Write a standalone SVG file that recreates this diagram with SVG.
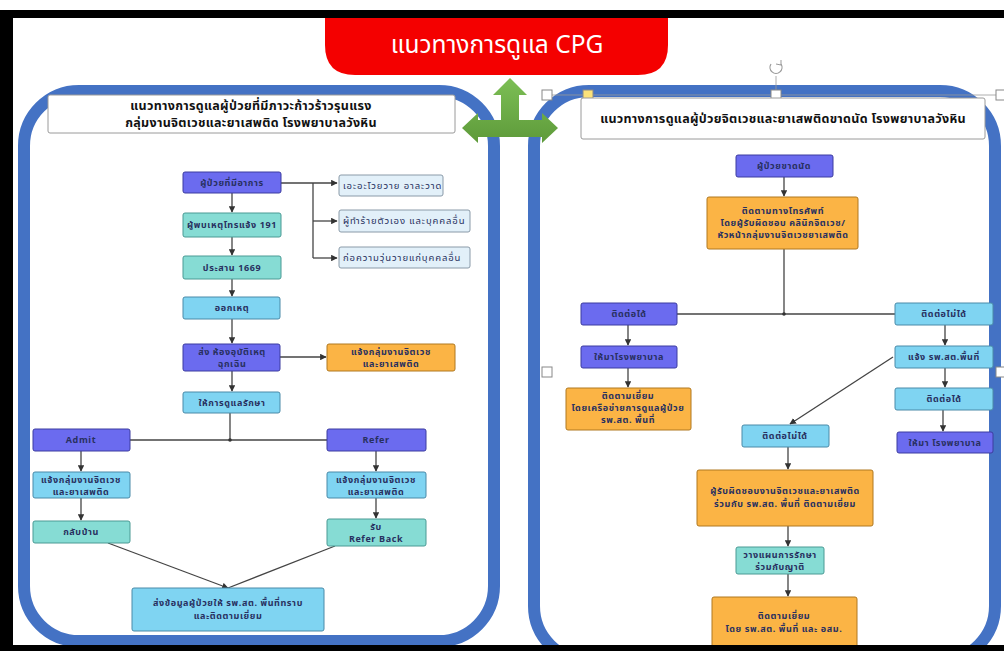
<svg xmlns="http://www.w3.org/2000/svg" width="1004" height="651" viewBox="0 0 1004 651">
<defs>
<style>
.t{font-family:"Noto Sans Thai","Noto Sans","DejaVu Sans",sans-serif;font-size:9px;font-weight:bold;fill:#283060;text-anchor:middle;letter-spacing:0.6px}
.h{font-family:"Noto Sans Thai","Noto Sans","DejaVu Sans",sans-serif;font-size:12.5px;font-weight:bold;fill:#111;text-anchor:middle;letter-spacing:0.3px}
.tl{text-anchor:start;font-weight:normal;font-size:9.5px;letter-spacing:0.9px}
.pu{fill:#6b6bef;stroke:#3c3ca0;stroke-width:1}
.sk{fill:#7fd4f2;stroke:#4a8aa8;stroke-width:1}
.tq{fill:#86dcd4;stroke:#4a9a94;stroke-width:1}
.or{fill:#fbb445;stroke:#b07820;stroke-width:1}
.lt{fill:#e2f0f9;stroke:#8a9aa8;stroke-width:1}
.hd{fill:#fff;stroke:#9a9a9a;stroke-width:1}
.c{fill:none;stroke:#444;stroke-width:1.3}
.hn{fill:#fff;stroke:#888;stroke-width:1}
</style>
<marker id="a" viewBox="0 0 10 10" refX="9" refY="5" markerWidth="5" markerHeight="5" orient="auto">
<path d="M0,0 L10,5 L0,10 z" fill="#333"/>
</marker>
<linearGradient id="g" x1="0" y1="0" x2="0" y2="1">
<stop offset="0" stop-color="#7cbf55"/>
<stop offset="1" stop-color="#5e9a3a"/>
</linearGradient>
</defs>
<rect x="0" y="0" width="1004" height="651" fill="#fff"/>
<g id="panels">
<rect x="24" y="91" width="470" height="550" rx="55" fill="#fff" stroke="#4472c4" stroke-width="12"/>
<rect x="534" y="91" width="461" height="570" rx="55" fill="#fff" stroke="#4472c4" stroke-width="12"/>
</g>
<g id="title">
<path d="M325,10 H668 V45 Q668,75 638,75 H355 Q325,75 325,45 Z" fill="#f40000"/>
<text x="497" y="53" font-family="Noto Sans Thai,Noto Sans,DejaVu Sans,sans-serif" font-size="24.5" fill="#fff" text-anchor="middle">แนวทางการดูแล CPG</text>
</g>
<g id="green-arrow">
<path d="M510,78 L527,95 L519,95 L519,120 L542,120 L542,113 L558,128 L542,143 L542,137 L478,137 L478,143 L462,128 L478,113 L478,120 L501,120 L501,95 L493,95 Z" fill="url(#g)"/>
</g>
<g id="selection">
<line x1="547" y1="95" x2="1000" y2="95" stroke="#999" stroke-width="0.8"/>
<line x1="776" y1="76" x2="776" y2="95" stroke="#999" stroke-width="0.8"/>
<path d="M771,64 A6,6 0 1 0 781,64" fill="none" stroke="#999" stroke-width="1.2"/>
<path d="M781,60 L781,65 L776,64" fill="none" stroke="#999" stroke-width="1"/>
<rect x="542" y="90" width="10" height="10" class="hn"/>
<rect x="583" y="90" width="10" height="10" fill="#fbe27a" stroke="#888"/>
<rect x="771" y="90" width="10" height="10" class="hn"/>
<rect x="996" y="90" width="10" height="10" class="hn"/>
<rect x="542" y="367" width="10" height="10" class="hn"/>
<rect x="996" y="367" width="10" height="10" class="hn"/>
</g>
<g id="connectors">
<path class="c" d="M281,183 H337" marker-end="url(#a)"/>
<path class="c" d="M313,183 V258"/>
<path class="c" d="M313,221 H337" marker-end="url(#a)"/>
<path class="c" d="M313,258 H337" marker-end="url(#a)"/>
<path class="c" d="M232,193 V212" marker-end="url(#a)"/>
<path class="c" d="M232,237 V255" marker-end="url(#a)"/>
<path class="c" d="M232,279 V296" marker-end="url(#a)"/>
<path class="c" d="M232,319 V343" marker-end="url(#a)"/>
<path class="c" d="M280,357 H326" marker-end="url(#a)"/>
<path class="c" d="M232,371 V391" marker-end="url(#a)"/>
<path class="c" d="M230,413 V440"/>
<path class="c" d="M130,440 H327"/>
<circle cx="230" cy="440" r="1.8" fill="#333"/>
<path class="c" d="M81,451 V471" marker-end="url(#a)"/>
<path class="c" d="M81,498 V520" marker-end="url(#a)"/>
<path class="c" d="M376,451 V471" marker-end="url(#a)"/>
<path class="c" d="M376,498 V518" marker-end="url(#a)"/>
<path class="c" d="M108,543 L228,588" marker-end="url(#a)"/>
<path class="c" d="M335,546 L228,588"/>
<path class="c" d="M784,177 V196" marker-end="url(#a)"/>
<path class="c" d="M784,249 V314"/>
<path class="c" d="M677,314 H895"/>
<circle cx="784" cy="314" r="1.8" fill="#333"/>
<path class="c" d="M628,325 V345" marker-end="url(#a)"/>
<path class="c" d="M628,368 V387" marker-end="url(#a)"/>
<path class="c" d="M945,325 V345" marker-end="url(#a)"/>
<path class="c" d="M945,368 V387" marker-end="url(#a)"/>
<path class="c" d="M943,410 V431" marker-end="url(#a)"/>
<path class="c" d="M893,357 L790,424" marker-end="url(#a)"/>
<path class="c" d="M788,447 V469" marker-end="url(#a)"/>
<path class="c" d="M788,526 V546" marker-end="url(#a)"/>
<path class="c" d="M788,574 V596" marker-end="url(#a)"/>
</g>
<g id="left-header"><rect class="hd" x="48" y="95" width="407" height="38" rx="2"/>
<text class="h" x="251" y="110">แนวทางการดูแลผู้ป่วยที่มีภาวะก้าวร้าวรุนแรง</text>
<text class="h" x="251" y="127">กลุ่มงานจิตเวชและยาเสพติด โรงพยาบาลวังหิน</text></g>
<g id="n-symptom"><rect class="pu" x="183" y="172" width="98" height="21" rx="2"/><text class="t" x="232" y="186">ผู้ป่วยที่มีอาการ</text></g>
<g id="n-s1"><rect class="lt" x="339" y="175" width="104" height="21" rx="2"/><text class="t tl" x="343" y="189">เอะอะโวยวาย อาละวาด</text></g>
<g id="n-s2"><rect class="lt" x="339" y="210" width="131" height="22" rx="2"/><text class="t tl" x="343" y="224">ผู้ทำร้ายตัวเอง และบุคคลอื่น</text></g>
<g id="n-s3"><rect class="lt" x="339" y="247" width="131" height="21" rx="2"/><text class="t tl" x="343" y="261">ก่อความวุ่นวายแก่บุคคลอื่น</text></g>
<g id="n-191"><rect class="tq" x="183" y="213" width="98" height="24" rx="2"/><text class="t" x="232" y="228">ผู้พบเหตุโทรแจ้ง 191</text></g>
<g id="n-1669"><rect class="tq" x="183" y="256" width="98" height="23" rx="2"/><text class="t" x="232" y="271">ประสาน 1669</text></g>
<g id="n-out"><rect class="sk" x="183" y="297" width="97" height="22" rx="2"/><text class="t" x="232" y="311">ออกเหตุ</text></g>
<g id="n-er"><rect class="pu" x="183" y="344" width="97" height="27" rx="2"/><text class="t" x="232" y="355">ส่ง ห้องอุบัติเหตุ</text><text class="t" x="232" y="367">ฉุกเฉิน</text></g>
<g id="n-notify1"><rect class="or" x="327" y="344" width="128" height="27" rx="2"/><text class="t" x="391" y="355">แจ้งกลุ่มงานจิตเวช</text><text class="t" x="391" y="367">และยาเสพติด</text></g>
<g id="n-care"><rect class="sk" x="183" y="392" width="97" height="21" rx="2"/><text class="t" x="232" y="406">ให้การดูแลรักษา</text></g>
<g id="n-admit"><rect class="pu" x="33" y="429" width="97" height="22" rx="2"/><text class="t" x="81" y="443">Admit</text></g>
<g id="n-refer"><rect class="pu" x="327" y="429" width="99" height="22" rx="2"/><text class="t" x="376" y="443">Refer</text></g>
<g id="n-notify2"><rect class="sk" x="33" y="472" width="97" height="26" rx="2"/><text class="t" x="81" y="483">แจ้งกลุ่มงานจิตเวช</text><text class="t" x="81" y="495">และยาเสพติด</text></g>
<g id="n-notify3"><rect class="sk" x="327" y="472" width="99" height="26" rx="2"/><text class="t" x="376" y="483">แจ้งกลุ่มงานจิตเวช</text><text class="t" x="376" y="495">และยาเสพติด</text></g>
<g id="n-home"><rect class="tq" x="33" y="521" width="97" height="22" rx="2"/><text class="t" x="81" y="535">กลับบ้าน</text></g>
<g id="n-referback"><rect class="tq" x="327" y="519" width="99" height="27" rx="2"/><text class="t" x="376" y="530">รับ</text><text class="t" x="376" y="542">Refer Back</text></g>
<g id="n-send"><rect class="sk" x="132" y="588" width="192" height="43" rx="2"/><text class="t" x="228" y="606">ส่งข้อมูลผู้ป่วยให้ รพ.สต. พื้นที่ทราบ</text><text class="t" x="228" y="619">และติดตามเยี่ยม</text></g>
<g id="right-header"><rect class="hd" x="581" y="98" width="404" height="41" rx="2"/>
<text class="h" x="783" y="123">แนวทางการดูแลผู้ป่วยจิตเวชและยาเสพติดขาดนัด โรงพยาบาลวังหิน</text></g>
<g id="r-missed"><rect class="pu" x="736" y="155" width="97" height="22" rx="2"/><text class="t" x="784" y="169">ผู้ป่วยขาดนัด</text></g>
<g id="r-phone"><rect class="or" x="707" y="197" width="151" height="52" rx="2"/><text class="t" x="783" y="214">ติดตามทางโทรศัพท์</text><text class="t" x="783" y="226">โดยผู้รับผิดชอบ คลินิกจิตเวช/</text><text class="t" x="783" y="238">หัวหน้ากลุ่มงานจิตเวชยาเสพติด</text></g>
<g id="r-ok"><rect class="pu" x="581" y="303" width="96" height="22" rx="2"/><text class="t" x="629" y="317">ติดต่อได้</text></g>
<g id="r-fail"><rect class="sk" x="895" y="303" width="98" height="22" rx="2"/><text class="t" x="944" y="317">ติดต่อไม่ได้</text></g>
<g id="r-come"><rect class="pu" x="581" y="346" width="96" height="22" rx="2"/><text class="t" x="629" y="360">ให้มาโรงพยาบาล</text></g>
<g id="r-visit"><rect class="or" x="566" y="388" width="125" height="42" rx="2"/><text class="t" x="628" y="399">ติดตามเยี่ยม</text><text class="t" x="628" y="411">โดยเครือข่ายการดูแลผู้ป่วย</text><text class="t" x="628" y="423">รพ.สต. พื้นที่</text></g>
<g id="r-notify"><rect class="sk" x="895" y="346" width="98" height="22" rx="2"/><text class="t" x="944" y="360">แจ้ง รพ.สต.พื้นที่</text></g>
<g id="r-ok2"><rect class="sk" x="895" y="388" width="98" height="22" rx="2"/><text class="t" x="944" y="402">ติดต่อได้</text></g>
<g id="r-come2"><rect class="pu" x="897" y="432" width="96" height="21" rx="2"/><text class="t" x="945" y="446">ให้มา โรงพยาบาล</text></g>
<g id="r-fail2"><rect class="sk" x="742" y="425" width="87" height="22" rx="2"/><text class="t" x="785" y="439">ติดต่อไม่ได้</text></g>
<g id="r-joint"><rect class="or" x="697" y="470" width="176" height="56" rx="2"/><text class="t" x="785" y="494">ผู้รับผิดชอบงานจิตเวชและยาเสพติด</text><text class="t" x="785" y="507">ร่วมกับ รพ.สต. พื้นที่ ติดตามเยี่ยม</text></g>
<g id="r-plan"><rect class="tq" x="736" y="547" width="88" height="27" rx="2"/><text class="t" x="780" y="558">วางแผนการรักษา</text><text class="t" x="780" y="570">ร่วมกับญาติ</text></g>
<g id="r-visit2"><rect class="or" x="712" y="597" width="145" height="60" rx="2"/><text class="t" x="784" y="619">ติดตามเยี่ยม</text><text class="t" x="784" y="632">โดย รพ.สต. พื้นที่ และ อสม.</text></g>
<g id="frame">
<rect x="0" y="0" width="1004" height="10" fill="#fff"/>
<rect x="0" y="10" width="1004" height="8" fill="#000"/>
<rect x="0" y="10" width="13" height="641" fill="#000"/>
<rect x="0" y="645" width="1004" height="6" fill="#000"/>
</g>
</svg>
